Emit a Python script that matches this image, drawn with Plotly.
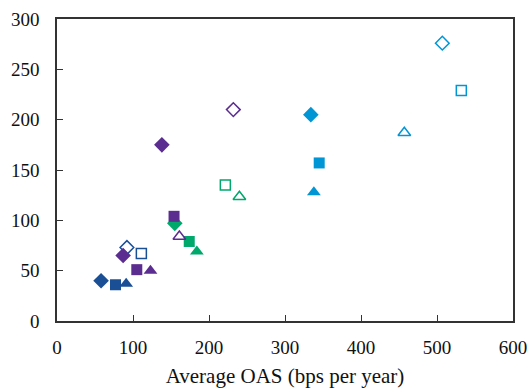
import plotly.graph_objects as go

# Data (x = Average OAS in bps per year)
dark_blue_x = [92, 111, 58, 77, 91]
dark_blue_y = [73, 67, 40, 36, 37]
dark_blue_sym = ["diamond-open", "square-open", "diamond", "square", "triangle-up"]

green_x = [155, 174, 184, 221.5, 240]
green_y = [97, 79, 69, 135, 123.5]
green_sym = ["diamond", "square", "triangle-up", "square-open", "triangle-up-open"]

purple_x = [87, 105, 123, 138, 154, 161, 232]
purple_y = [65, 51, 50, 175, 104, 84, 210]
purple_sym = ["diamond", "square", "triangle-up", "diamond", "square",
              "triangle-up-open", "diamond-open"]

light_blue_x = [334, 345, 338, 507, 532, 457]
light_blue_y = [205, 157, 128, 276, 229, 187]
light_blue_sym = ["diamond", "square", "triangle-up", "diamond-open",
                  "square-open", "triangle-up-open"]

x_ticks = [0, 100, 200, 300, 400, 500, 600]
y_ticks = [0, 50, 100, 150, 200, 250, 300]
x_title = "Average OAS (bps per year)"

SIZES = {"diamond": 12, "square": 11, "triangle-up": 12,
         "diamond-open": 10.5, "square-open": 10, "triangle-up-open": 11}

groups = [
    ("Dark blue", dark_blue_x, dark_blue_y, dark_blue_sym, "#1a4f96"),
    ("Green", green_x, green_y, green_sym, "#00a86b"),
    ("Purple", purple_x, purple_y, purple_sym, "#5b2d90"),
    ("Light blue", light_blue_x, light_blue_y, light_blue_sym, "#0096d6"),
]

fig = go.Figure()
for name, xs, ys, syms, col in groups:
    fig.add_trace(go.Scatter(
        x=xs, y=ys, mode="markers", name=name,
        marker=dict(symbol=syms, color=col, opacity=1,
                    size=[SIZES[s] for s in syms],
                    line=dict(color=col,
                              width=[1.5 if s.endswith("open") else 0 for s in syms])),
        showlegend=False,
    ))

font = "Liberation Serif, Times New Roman, serif"
fig.update_layout(
    width=529, height=389,
    margin=dict(l=57, r=16, t=19, b=68),
    paper_bgcolor="white", plot_bgcolor="white",
    font=dict(family=font, size=19, color="#111"),
    xaxis=dict(range=[0, 600], tickvals=x_ticks, ticks="inside", ticklen=6,
               tickcolor="#333", showline=True, linecolor="#333", linewidth=1.5,
               mirror=True, showgrid=False, zeroline=False, automargin=False,
               ticklabelstandoff=8,
               title=dict(text=x_title, font=dict(size=21), standoff=12)),
    yaxis=dict(range=[0, 300], tickvals=y_ticks, ticks="inside", ticklen=6,
               tickcolor="#333", showline=True, linecolor="#333", linewidth=1.5,
               mirror=True, showgrid=False, zeroline=False, automargin=False,
               ticklabelstandoff=12),
)

fig.write_html("out.html",
               config={"displayModeBar": False},
               post_script="document.body.style.margin='0';"
                           "document.body.style.overflow='hidden';")
